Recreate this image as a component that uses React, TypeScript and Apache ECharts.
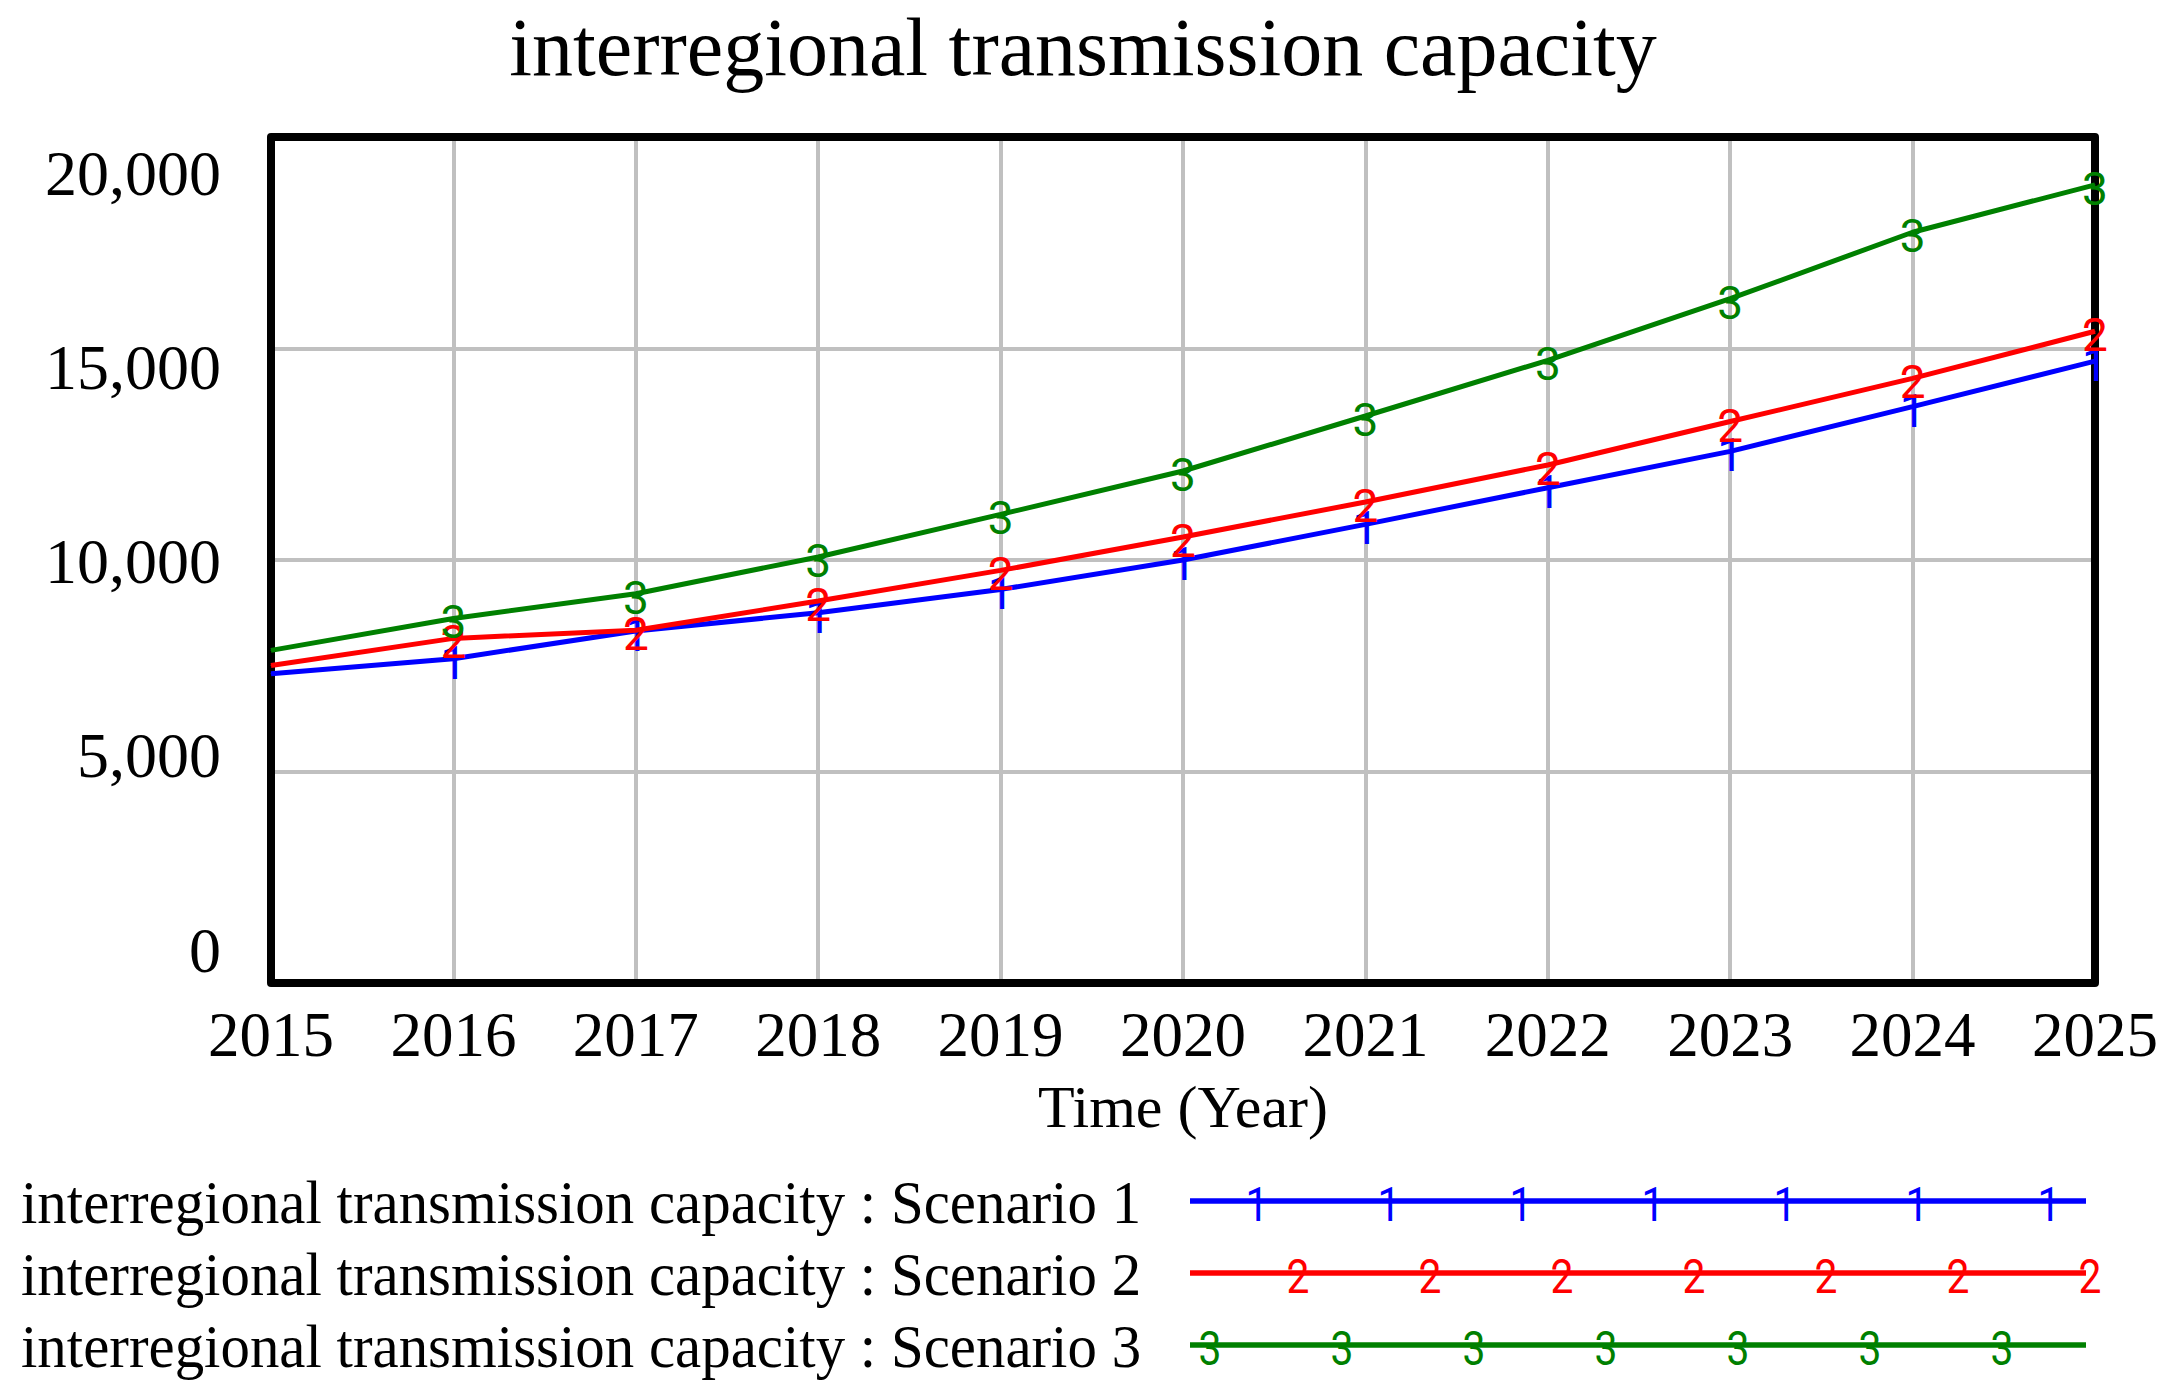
import React, { useEffect, useRef } from "react";
import * as echarts from "echarts";

const years = [2015, 2016, 2017, 2018, 2019, 2020, 2021, 2022, 2023, 2024, 2025];
const scenario1 = [7312, 7667, 8322, 8754, 9305, 10000, 10842, 11709, 12567, 13627, 14700];
const scenario2 = [7508, 8147, 8340, 9031, 9754, 10544, 11371, 12246, 13273, 14293, 15407];
const scenario3 = [7863, 8619, 9203, 10071, 11078, 12104, 13404, 14721, 16177, 17748, 18869];
const yTickLabels = [0, 5000, 10000, 15000, 20000];
const seriesNames = [
  "interregional transmission capacity : Scenario 1",
  "interregional transmission capacity : Scenario 2",
  "interregional transmission capacity : Scenario 3",
];
const markerTexts = ["1", "2", "3"];
const colors = ["#0000ff", "#ff0000", "#008000"];
const titleText = "interregional transmission capacity";
const xAxisName = "Time (Year)";

const SERIF = "'Liberation Serif', 'Times New Roman', serif";
const SANS = "Roboto, 'Liberation Sans', Arial, sans-serif";

export default function App() {
  const ref = useRef<HTMLDivElement>(null);

  useEffect(() => {
    if (!ref.current) return;
    const chart = echarts.init(ref.current, undefined, { renderer: "svg" });

    const gridLeft = 271;
    const gridTop = 137;
    const gridW = 1824;
    const gridH = 846;

    const allSeries = [scenario1, scenario2, scenario3];

    const legendLineY = [1201, 1273, 1345];
    const legendMarkStart = [1257, 1298, 1210];
    const legendGraphics: any[] = [];

    // plot frame (drawn above the grid lines, below the series)
    legendGraphics.push({
      type: "rect",
      z: 2,
      silent: true,
      shape: { x: gridLeft, y: gridTop, width: gridW, height: gridH },
      style: { fill: "none", stroke: "#000", lineWidth: 8, lineJoin: "round" },
    });

    seriesNames.forEach((name, i) => {
      const y = legendLineY[i];
      legendGraphics.push({
        type: "text",
        x: 21,
        y: y + 1,
        scaleX: 0.95,
        style: {
          text: name,
          font: `62px ${SERIF}`,
          fill: "#000",
          textAlign: "left",
          textVerticalAlign: "middle",
          verticalAlign: "middle",
        },
      });
      legendGraphics.push({
        type: "line",
        shape: { x1: 1190, y1: y, x2: 2086, y2: y },
        style: { stroke: colors[i], lineWidth: 5.5 },
      });
      for (let k = 0; k < 7; k++) {
        legendGraphics.push({
          type: "text",
          x: legendMarkStart[i] + k * 132,
          y: y + 4,
          scaleX: 0.85,
          style: {
            text: markerTexts[i],
            font: `48px ${SANS}`,
            fill: colors[i],
            textAlign: "center",
            textVerticalAlign: "middle",
            verticalAlign: "middle",
          },
        });
      }
    });

    chart.setOption({
      animation: false,
      backgroundColor: "#ffffff",
      title: {
        text: titleText,
        left: 1078,
        top: 1,
        textAlign: "center",
        textStyle: {
          fontFamily: SERIF,
          fontSize: 82,
          lineHeight: 82,
          fontWeight: "normal",
          color: "#000",
        },
      },
      grid: {
        left: gridLeft,
        top: gridTop,
        width: gridW,
        height: gridH,
        show: false,
        containLabel: false,
      },
      xAxis: {
        type: "value",
        min: 2015,
        max: 2025,
        interval: 1,
        axisLine: { show: false },
        axisTick: { show: false },
        splitLine: { show: true, lineStyle: { color: "#c0c0c0", width: 4 } },
        axisLabel: {
          formatter: (v: number) => String(v),
          fontFamily: SERIF,
          fontSize: 63,
          lineHeight: 63,
          color: "#000",
          margin: 20,
        },
        name: xAxisName,
        nameLocation: "middle",
        nameGap: 94,
        nameTextStyle: {
          fontFamily: SERIF,
          fontSize: 60,
          lineHeight: 60,
          color: "#000",
        },
      },
      yAxis: [
        {
          type: "value",
          min: 0,
          max: 20000,
          interval: 5000,
          axisLine: { show: false },
          axisTick: { show: false },
          axisLabel: { show: false },
          splitLine: { show: true, lineStyle: { color: "#c0c0c0", width: 4 } },
        },
        {
          type: "value",
          min: -849,
          max: 20927,
          position: "left",
          axisLine: { show: false },
          axisTick: { show: false },
          splitLine: { show: false },
          axisLabel: {
            show: true,
            customValues: yTickLabels,
            formatter: (v: number) => v.toLocaleString("en-US"),
            fontFamily: SERIF,
            fontSize: 64,
            color: "#000",
            margin: 50,
          },
        },
      ],
      series: allSeries.map((vals, i) => ({
        name: seriesNames[i],
        type: "line",
        yAxisIndex: 0,
        data: years.map((yr, j) => [yr, vals[j]]),
        symbol: "circle",
        symbolSize: 1,
        showSymbol: true,
        z: 3 + i,
        lineStyle: { color: colors[i], width: 5 },
        itemStyle: { color: colors[i] },
        label: {
          show: true,
          position: "inside",
          offset: [0, 4],
          formatter: (p: any) => (p.dataIndex === 0 ? "" : markerTexts[i]),
          fontFamily: SANS,
          fontSize: 46,
          color: colors[i],
        },
        emphasis: { disabled: true },
      })),
      graphic: legendGraphics,
    });

    return () => chart.dispose();
  }, []);

  return (
    <div
      ref={ref}
      style={{
        position: "fixed",
        left: 0,
        top: 0,
        width: "2172px",
        height: "1396px",
        background: "#fff",
      }}
    />
  );
}
